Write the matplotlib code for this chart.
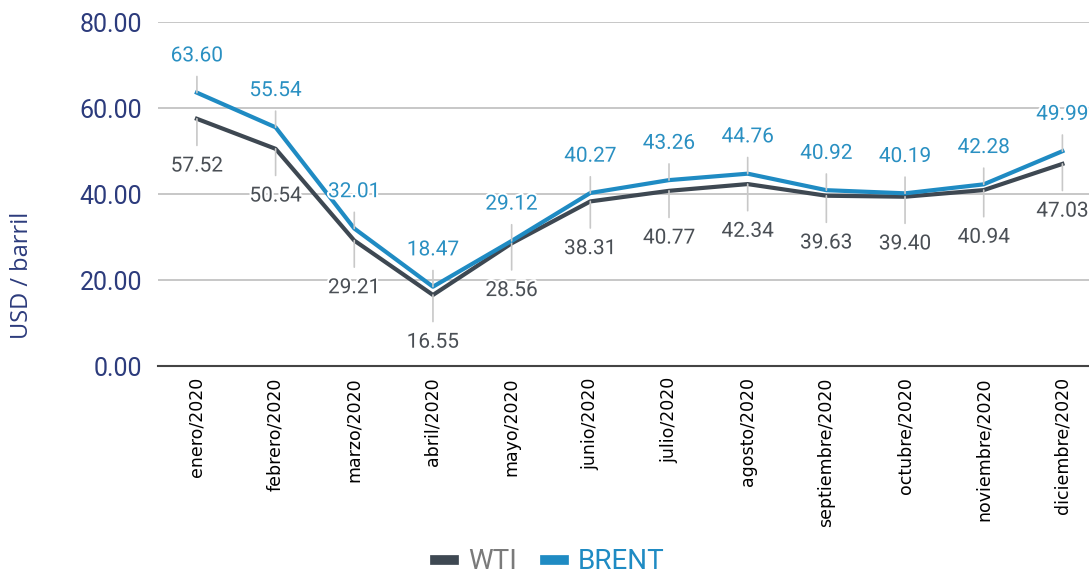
import matplotlib
matplotlib.use('Agg')
import matplotlib.pyplot as plt
import matplotlib.patheffects as pe

# data
meses = ['enero/2020', 'febrero/2020', 'marzo/2020', 'abril/2020', 'mayo/2020', 'junio/2020',
         'julio/2020', 'agosto/2020', 'septiembre/2020', 'octubre/2020', 'noviembre/2020',
         'diciembre/2020']
wti = [57.52, 50.54, 29.21, 16.55, 28.56, 38.31, 40.77, 42.34, 39.63, 39.40, 40.94, 47.03]
brent = [63.60, 55.54, 32.01, 18.47, 29.12, 40.27, 43.26, 44.76, 40.92, 40.19, 42.28, 49.99]
y_ticks = [0, 20, 40, 60, 80]

WTI_COLOR = '#3e4852'
BRENT_COLOR = '#1f8bc3'
NAVY = '#2c3b7c'

fig = plt.figure(figsize=(10.89, 5.83), dpi=100)
ax = fig.add_axes([0.1447, 0.372, 0.867, 0.590])

x = list(range(len(meses)))
ax.plot(x, wti, color=WTI_COLOR, lw=3, label='WTI', zorder=4)
ax.plot(x, brent, color=BRENT_COLOR, lw=3, label='BRENT', zorder=5)

halo = [pe.withStroke(linewidth=3, foreground='white')]
# value labels with leader lines
for i in x:
    ax.annotate('%.2f' % brent[i], xy=(i, brent[i]), xytext=(0, 26.5), textcoords='offset points',
                ha='center', va='center', fontsize=15, family='Roboto', color='#2a90c2',
                path_effects=halo, zorder=6,
                arrowprops=dict(arrowstyle='-', color='#c8c8c8', lw=1.2, shrinkA=6, shrinkB=0))
    ax.annotate('%.2f' % wti[i], xy=(i, wti[i]), xytext=(0, -34), textcoords='offset points',
                ha='center', va='center', fontsize=15, family='Roboto', color='#4a4f55',
                path_effects=halo, zorder=6,
                arrowprops=dict(arrowstyle='-', color='#c8c8c8', lw=1.2, shrinkA=6, shrinkB=0))

ax.set_xlim(-0.5, len(meses) - 0.5)
ax.set_ylim(0, 80)
ax.set_yticks(y_ticks)
ax.set_yticklabels(['%.2f' % v for v in y_ticks], fontsize=18, family='Roboto', color=NAVY)
ax.set_xticks(x)
ax.set_xticklabels(meses, rotation=90, fontsize=12.5, family='DejaVu Sans', color='black')
ax.tick_params(axis='both', length=0, pad=8)
ax.tick_params(axis='y', pad=11)
ax.grid(axis='y', color='#bdbdbd', lw=1.2)
ax.set_axisbelow(True)
for s in ['top', 'right', 'left']:
    ax.spines[s].set_visible(False)
ax.spines['bottom'].set_color('#444444')
ax.spines['bottom'].set_linewidth(1.5)
ax.spines['bottom'].set_zorder(1)

fig.text(0.02, 0.528, 'USD / barril', rotation=90, ha='center', va='center',
         fontsize=17, family='Open Sans', color=NAVY)

leg = fig.legend(loc='lower center', bbox_to_anchor=(0.505, -0.03), ncol=2, frameon=False,
                 handlelength=0.7, handletextpad=0.5, columnspacing=1.0,
                 prop={'family': 'Roboto', 'size': 20})
for line in leg.get_lines():
    line.set_linewidth(7)
leg.get_texts()[0].set_color('#7a7a7a')
leg.get_texts()[1].set_color(BRENT_COLOR)

fig.savefig('out.png', dpi=100)
